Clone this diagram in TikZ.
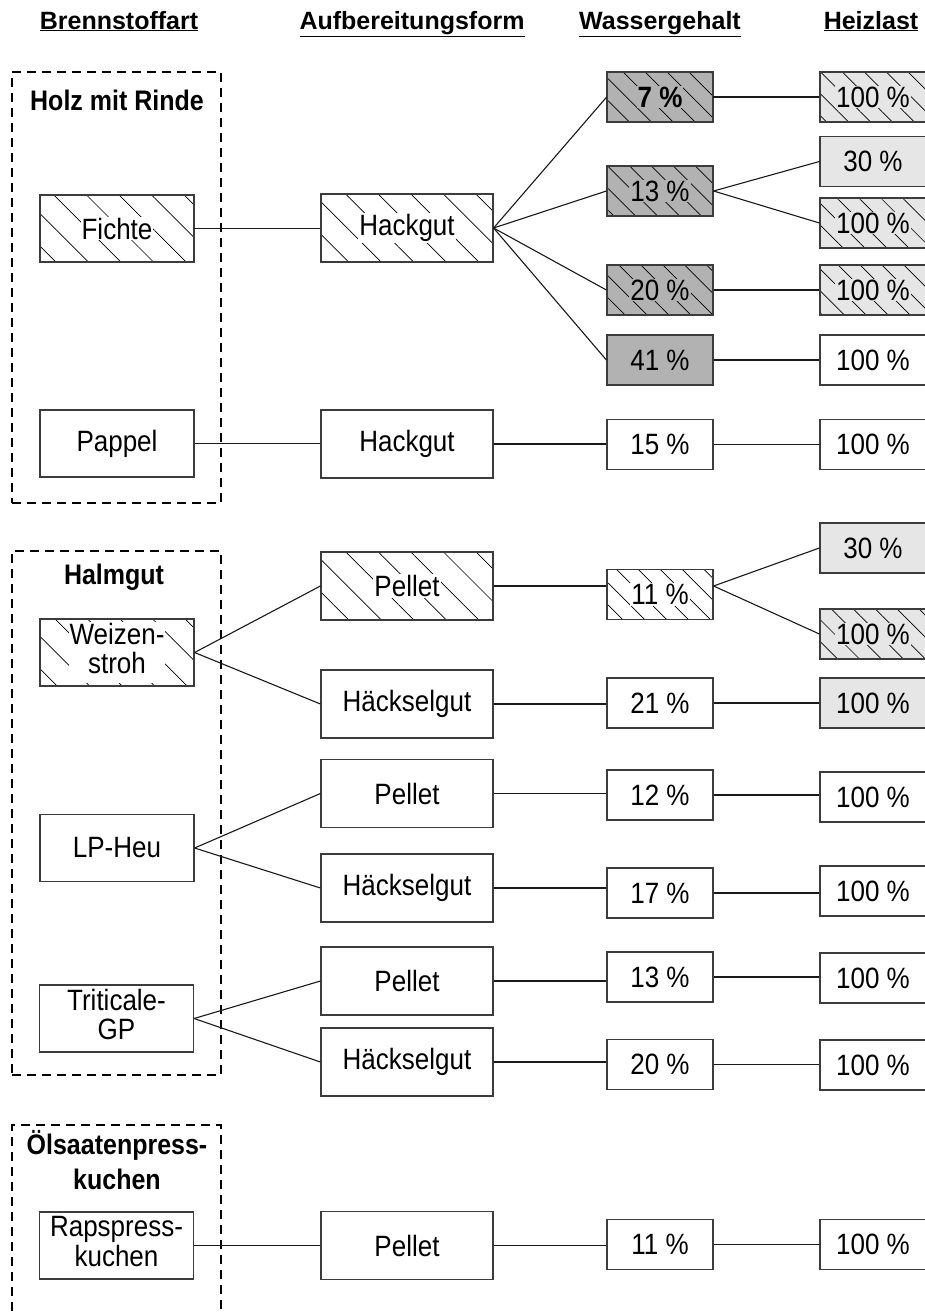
\documentclass[tikz,border=0pt]{standalone}
\usepackage{fontspec}
\setmainfont{Liberation Sans}
\usetikzlibrary{patterns.meta}
\definecolor{bordc}{RGB}{60,60,60}
\definecolor{linec}{RGB}{25,25,25}
\definecolor{darkg}{RGB}{178,178,178}
\definecolor{lightg}{RGB}{230,230,230}
\newcommand{\vs}[1]{\scalebox{1}[1.13]{#1}}
\newcommand{\halo}[2]{{\setlength{\fboxsep}{1pt}\colorbox{#1}{#2}}}
\newcommand{\bodyfont}{\fontsize{26}{28}\selectfont}
\newcommand{\headfont}{\fontsize{25}{29}\selectfont\bfseries}
\newcommand{\twob}[2]{\vs{\fontsize{26}{24.5}\selectfont\begin{tabular}{@{}c@{}}#1\\#2\end{tabular}}}
\newcommand{\twoh}[2]{{\fontsize{25}{31}\selectfont\begin{tabular}{@{}c@{}}#1\\#2\end{tabular}}}
\begin{document}
\begin{tikzpicture}[x=1pt,y=-1pt,
  box/.style={draw=bordc, line width=1.2pt, inner sep=0pt, font=\bodyfont, align=center, fill=white},
  c1/.style={box, minimum width=154pt, minimum height=67pt},
  c2/.style={box, minimum width=172pt, minimum height=68pt},
  c3/.style={box, minimum width=106pt, minimum height=50pt},
  c4/.style={c3, text width=106pt, align=center, xshift=0pt},
  hatchL/.style={pattern={Lines[angle=-45,distance=23pt,line width=0.7pt]}, pattern color=black},
  hatchS/.style={pattern={Lines[angle=-45,distance=15.5pt,line width=0.7pt]}, pattern color=black},
  bgw/.style={preaction={fill=white}},
  bgd/.style={preaction={fill=darkg}},
  bgl/.style={preaction={fill=lightg}},
  dk/.style={fill=darkg},
  lt/.style={fill=lightg},
  conn/.style={draw=linec, line width=1.1pt},
  group/.style={draw=black, line width=1.8pt, dash pattern=on 9pt off 6pt, inner sep=0pt},
  grplabel/.style={font=\headfont, align=center, inner sep=0pt},
  head/.style={font=\headfont, anchor=base, inner sep=0pt}
]
\useasboundingbox (0,0) rectangle (925,1312);
\clip (0,0) rectangle (925,1312);
\fill[white] (0,0) rectangle (925,1312);

% headers
\node[head] (hd1) at (119,29) {\underline{Brennstoffart}};
\node[head] (hd2) at (412,29) {\underline{Aufbereitungsform}};
\node[head] (hd3) at (660,29) {\underline{Wassergehalt}};
\node[head] (hd4) at (871,29) {\underline{Heizlast}};

% groups
\node[group, minimum width=209pt, minimum height=431pt] (g1) at (116.5,287.5) {};
\node[group, minimum width=209pt, minimum height=524pt] (g2) at (116.5,813) {};
\node[group, minimum width=209pt, minimum height=215pt] (g3) at (116.5,1232.5) {};
\node[grplabel] (g1l) at (117,100) {\vs{Holz mit Rinde}};
\node[grplabel] (g2l) at (114,577) {\vs{Halmgut}};
\node[grplabel] (g3l) at (117,1165) {\vs{\twoh{Ölsaatenpress-}{kuchen}}};

% column 1
\node[c1, bgw, hatchL] (fichte) at (117,228.5) {\halo{white}{\vs{Fichte}}};
\node[c1] (pappel) at (117,443.5) {\vs{Pappel}};
\node[c1, bgw, hatchL] (weizen) at (117,652.5) {\halo{white}{\twob{Weizen-}{stroh}}};
\node[c1] (lpheu) at (117,848) {\vs{LP-Heu}};
\node[c1] (trit) at (116.5,1018.5) {\twob{Triticale-}{GP}};
\node[c1] (raps) at (116.5,1245.5) {\twob{Rapspress-}{kuchen}};

% column 2
\node[c2, bgw, hatchL] (hack1) at (407,228) {\halo{white}{\vs{Hackgut}}};
\node[c2] (hack2) at (407,444) {\vs{Hackgut}};
\node[c2, bgw, hatchL] (pellW) at (407,586) {\halo{white}{\vs{Pellet}}};
\node[c2] (haeW) at (407,704) {\vs{Häckselgut}};
\node[c2] (pellL) at (407,793.5) {\vs{Pellet}};
\node[c2] (haeL) at (407,888) {\vs{Häckselgut}};
\node[c2] (pellT) at (407,981) {\vs{Pellet}};
\node[c2] (haeT) at (407,1062) {\vs{Häckselgut}};
\node[c2] (pellR) at (407,1245.5) {\vs{Pellet}};

% column 3
\node[c3, bgd, hatchS] (w7) at (660,97) {\halo{darkg}{\vs{\bfseries 7 \%}}};
\node[c3, bgd, hatchS] (w13a) at (660,191) {\halo{darkg}{\vs{13 \%}}};
\node[c3, bgd, hatchS] (w20a) at (660,290) {\halo{darkg}{\vs{20 \%}}};
\node[c3, dk] (w41) at (660,360) {\vs{41 \%}};
\node[c3] (w15) at (660,444.5) {\vs{15 \%}};
\node[c3, bgw, hatchS] (w11a) at (660,594.5) {\halo{white}{\vs{11 \%}}};
\node[c3] (w21) at (660,703) {\vs{21 \%}};
\node[c3] (w12) at (660,795) {\vs{12 \%}};
\node[c3] (w17) at (660,893) {\vs{17 \%}};
\node[c3] (w13b) at (660,977) {\vs{13 \%}};
\node[c3] (w20b) at (660,1064.5) {\vs{20 \%}};
\node[c3] (w11b) at (660,1244.5) {\vs{11 \%}};

% column 4
\node[c3, bgl, hatchS] (h1) at (873,97) {\halo{lightg}{\vs{100 \%}}};
\node[c3, lt] (h2) at (873,161.5) {\vs{30 \%}};
\node[c3, bgl, hatchS] (h3) at (873,223) {\halo{lightg}{\vs{100 \%}}};
\node[c3, bgl, hatchS] (h4) at (873,290) {\halo{lightg}{\vs{100 \%}}};
\node[c3] (h5) at (873,360) {\vs{100 \%}};
\node[c3] (h6) at (873,444.5) {\vs{100 \%}};
\node[c3, lt] (h7) at (873,548) {\vs{30 \%}};
\node[c3, bgl, hatchS] (h8) at (873,634) {\halo{lightg}{\vs{100 \%}}};
\node[c3, lt] (h9) at (873,703) {\vs{100 \%}};
\node[c3] (h10) at (873,797) {\vs{100 \%}};
\node[c3] (h11) at (873,891) {\vs{100 \%}};
\node[c3] (h12) at (873,978) {\vs{100 \%}};
\node[c3] (h13) at (873,1065) {\vs{100 \%}};
\node[c3] (h14) at (873,1244.5) {\vs{100 \%}};

% connectors
\draw[conn] (fichte.east) -- (hack1.west |- fichte.east);
\draw[conn] (hack1.east) -- (w7.west);
\draw[conn] (hack1.east) -- (w13a.west);
\draw[conn] (hack1.east) -- (w20a.west);
\draw[conn] (hack1.east) -- (w41.west);
\draw[conn] (w7.east) -- (h1.west);
\draw[conn] (w13a.east) -- (h2.west);
\draw[conn] (w13a.east) -- (h3.west);
\draw[conn] (w20a.east) -- (h4.west);
\draw[conn] (w41.east) -- (h5.west);

\draw[conn] (pappel.east) -- (hack2.west |- pappel.east);
\draw[conn] (hack2.east) -- (w15.west |- hack2.east);
\draw[conn] (w15.east) -- (h6.west |- w15.east);

\draw[conn] (weizen.east) -- (pellW.west);
\draw[conn] (weizen.east) -- (haeW.west);
\draw[conn] (pellW.east) -- (w11a.west |- pellW.east);
\coordinate (w11ax) at (w11a.east |- pellW.east);
\draw[conn] (w11ax) -- (h7.west);
\draw[conn] (w11ax) -- (h8.west);
\draw[conn] (haeW.east) -- (w21.west |- haeW.east);
\draw[conn] (w21.east) -- (h9.west |- w21.east);

\draw[conn] (lpheu.east) -- (pellL.west);
\draw[conn] (lpheu.east) -- (haeL.west);
\draw[conn] (pellL.east) -- (w12.west |- pellL.east);
\draw[conn] (w12.east) -- (h10.west |- w12.east);
\draw[conn] (haeL.east) -- (w17.west |- haeL.east);
\draw[conn] (w17.east) -- (h11.west |- w17.east);

\draw[conn] (trit.east) -- (pellT.west);
\draw[conn] (trit.east) -- (haeT.west);
\draw[conn] (pellT.east) -- (w13b.west |- pellT.east);
\draw[conn] (w13b.east) -- (h12.west |- w13b.east);
\draw[conn] (haeT.east) -- (w20b.west |- haeT.east);
\draw[conn] (w20b.east) -- (h13.west |- w20b.east);

\draw[conn] (raps.east) -- (pellR.west);
\draw[conn] (pellR.east) -- (w11b.west |- pellR.east);
\draw[conn] (w11b.east) -- (h14.west |- w11b.east);
\end{tikzpicture}
\end{document}
